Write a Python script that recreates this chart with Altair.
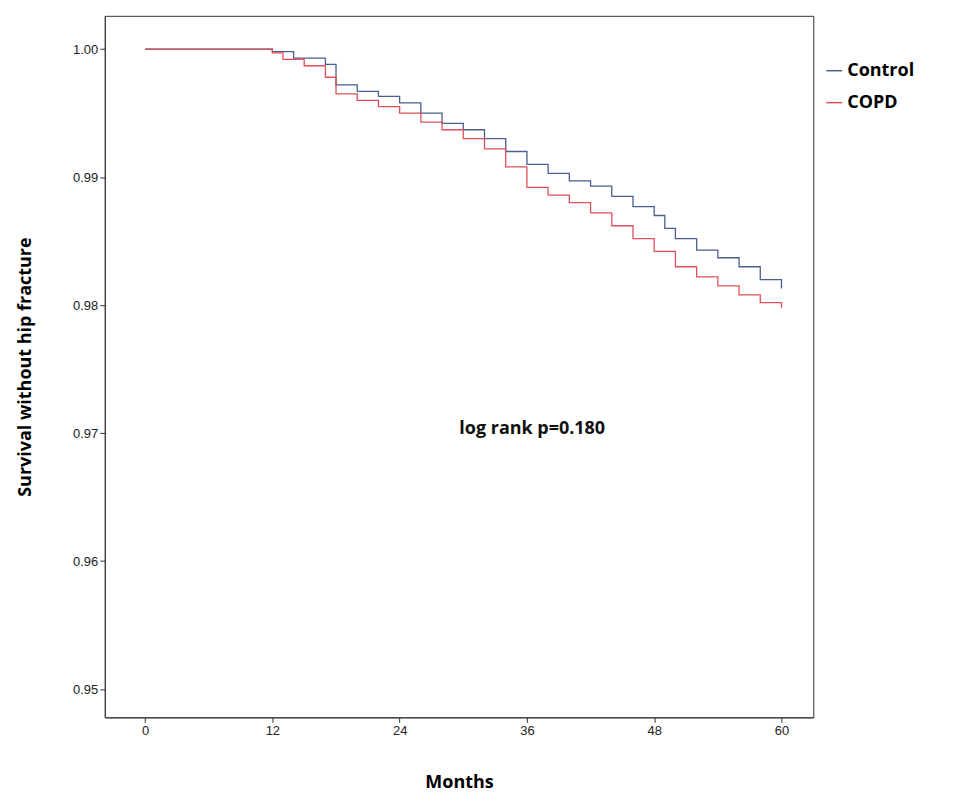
import altair as alt
import pandas as pd

months_control = [0, 11, 12, 14, 17, 18, 20, 22, 24, 26, 28, 30, 32, 34, 36, 38, 40, 42, 44, 46, 48, 49, 50, 52, 54, 56, 58, 60]
surv_control = [1.0, 1.0, 0.9998, 0.9993, 0.9988, 0.9972, 0.9967, 0.9963, 0.9958, 0.9950, 0.9942, 0.9937, 0.9930, 0.9920, 0.9910, 0.9903, 0.9897, 0.9893, 0.9885, 0.9877, 0.9870, 0.9860, 0.9852, 0.9843, 0.9837, 0.9830, 0.9820, 0.9813]
months_copd = [0, 11, 12, 13, 15, 17, 18, 20, 22, 24, 26, 28, 30, 32, 34, 36, 38, 40, 42, 44, 46, 48, 50, 52, 54, 56, 58, 60]
surv_copd = [1.0, 1.0, 0.9997, 0.9992, 0.9987, 0.9978, 0.9965, 0.9960, 0.9955, 0.9950, 0.9943, 0.9937, 0.9930, 0.9922, 0.9908, 0.9892, 0.9886, 0.9880, 0.9872, 0.9862, 0.9852, 0.9842, 0.9830, 0.9822, 0.9815, 0.9808, 0.9802, 0.9798]

rows = [{"month": m, "surv": s, "group": "Control"} for m, s in zip(months_control, surv_control)]
rows += [{"month": m, "surv": s, "group": "COPD"} for m, s in zip(months_copd, surv_copd)]
df = pd.DataFrame(rows)

x_ticks = [0, 12, 24, 36, 48, 60]
y_ticks = [0.95, 0.96, 0.97, 0.98, 0.99, 1.00]

lines = alt.Chart(df).mark_line(interpolate="step-after", strokeWidth=1.3).encode(
    x=alt.X("month:Q", title="Months", scale=alt.Scale(domain=[-3.8, 63], nice=False, zero=False),
            axis=alt.Axis(values=x_ticks, grid=False, titleFontSize=18, titleFont="Open Sans",
                          titlePadding=36, labelFontSize=13, labelColor="#222")),
    y=alt.Y("surv:Q", title="Survival without hip fracture",
            scale=alt.Scale(domain=[0.9478, 1.0026], nice=False, zero=False),
            axis=alt.Axis(values=y_ticks, format=".2f", grid=False, titleFontSize=18,
                          titleFont="Open Sans", titlePadding=38, labelFontSize=13, labelColor="#222")),
    color=alt.Color("group:N", scale=alt.Scale(domain=["Control", "COPD"], range=["#4a5f8f", "#e0505a"]),
                    legend=alt.Legend(title=None, orient="none", legendX=722, legendY=46,
                                      symbolType="stroke", symbolStrokeWidth=1.5, symbolSize=250,
                                      labelFontSize=18, labelFont="Open Sans", labelFontWeight="bold",
                                      rowPadding=14)),
)

note = alt.Chart(pd.DataFrame({"month": [36.5], "surv": [0.9703], "t": ["log rank p=0.180"]})).mark_text(
    fontSize=18, fontWeight="bold", font="Open Sans", color="#111").encode(
    x="month:Q", y="surv:Q", text="t:N")

chart = (lines + note).properties(
    width=710, height=703, autosize=alt.AutoSizeParams(type="none"),
    padding={"left": 97, "top": 7, "right": 140, "bottom": 80},
).configure_view(stroke="#333", strokeWidth=1).configure_axis(domainColor="#333", tickColor="#333")

chart.save("out.html", embed_options={"renderer": "svg", "actions": False})
